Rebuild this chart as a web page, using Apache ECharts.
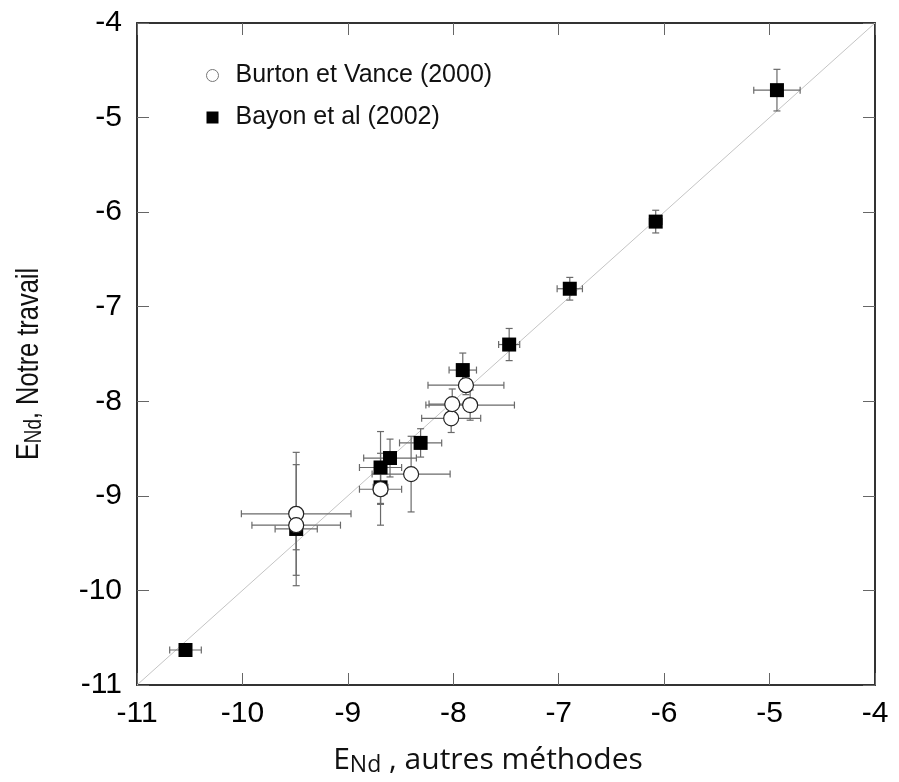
<!DOCTYPE html>
<html>
<head>
<meta charset="utf-8">
<script src="https://cdn.jsdelivr.net/npm/echarts@6/dist/echarts.min.js"></script>
<style>html,body{margin:0;padding:0;background:#fff;}#c{width:899px;height:782px;}</style>
</head>
<body>
<div id="c"></div>
<script>
// Burton et Vance (2000) — open circles
const burtonX    = [-9.49, -9.49, -8.69, -8.40, -8.02, -8.01, -7.84, -7.88];
const burtonY    = [-9.19, -9.31, -8.93, -8.77, -8.18, -8.03, -8.04, -7.83];
const burtonXErr = [0.52, 0.42, 0.20, 0.37, 0.28, 0.22, 0.42, 0.36];
const burtonYErr = [0.65, 0.64, 0.38, 0.40, 0.15, 0.16, 0.16, 0.10];

// Bayon et al (2002) — filled squares
const bayonX    = [-10.54, -9.49, -8.69, -8.69, -8.60, -8.31, -7.91, -7.47, -6.895, -6.08, -4.93];
const bayonY    = [-10.63, -9.35, -8.70, -8.91, -8.60, -8.44, -7.67, -7.40, -6.81, -6.10, -4.71];
const bayonXErr = [0.15, 0.20, 0.20, 0.07, 0.25, 0.20, 0.13, 0.10, 0.12, 0.06, 0.22];
const bayonYErr = [0.04, 0.22, 0.38, 0.18, 0.20, 0.15, 0.18, 0.17, 0.12, 0.12, 0.22];

const axisTicks = [-11, -10, -9, -8, -7, -6, -5, -4];
const oneToOne = [[-11, -11], [-4, -4]];

const seriesNames = ['Burton et Vance (2000)', 'Bayon et al (2002)'];
const xTitle = '{e|E}{sub|Nd}{e| , autres méthodes}';
const yTitle = '{e|E}{sub|Nd}{e|, Notre travail}';

function pts(xs, ys) { return xs.map((x, i) => [x, ys[i]]); }
function errs(xs, ys, ex, ey) { return xs.map((x, i) => [x, ys[i], ex[i], ey[i]]); }

function errRender(params, api) {
  const x = api.value(0), y = api.value(1), ex = api.value(2), ey = api.value(3);
  const l = api.coord([x - ex, y]), r = api.coord([x + ex, y]);
  const t = api.coord([x, y + ey]), b = api.coord([x, y - ey]);
  const cap = 3.5;
  const style = { stroke: '#6a6a6a', lineWidth: 1.2, fill: null };
  const ln = (x1, y1, x2, y2) => ({ type: 'line', shape: { x1, y1, x2, y2 }, style });
  return {
    type: 'group',
    children: [
      ln(l[0], l[1], r[0], r[1]),
      ln(t[0], t[1], b[0], b[1]),
      ln(l[0], l[1] - cap, l[0], l[1] + cap),
      ln(r[0], r[1] - cap, r[0], r[1] + cap),
      ln(t[0] - cap, t[1], t[0] + cap, t[1]),
      ln(b[0] - cap, b[1], b[0] + cap, b[1])
    ]
  };
}

const tickFont = { fontFamily: 'Liberation Sans', fontSize: 30, color: '#000' };

function mkX(pos, showLabel) {
  return {
    type: 'value', position: pos, min: -11, max: -4, interval: 1,
    axisLine: { show: true, onZero: false, lineStyle: { color: '#333', width: 2 } },
    axisTick: { show: true, inside: true, length: 12, lineStyle: { color: '#666', width: 1 } },
    splitLine: { show: false },
    axisLabel: Object.assign({ show: showLabel, margin: 14,
      formatter: v => axisTicks.includes(v) ? String(v) : '' }, tickFont)
  };
}
function mkY(pos, showLabel) {
  return {
    type: 'value', position: pos, min: -11, max: -4, interval: 1,
    axisLine: { show: true, onZero: false, lineStyle: { color: '#333', width: 2 } },
    axisTick: { show: true, inside: true, length: 12, lineStyle: { color: '#666', width: 1 } },
    splitLine: { show: false },
    axisLabel: Object.assign({ show: showLabel, margin: 15,
      formatter: v => axisTicks.includes(v) ? String(v) : '' }, tickFont)
  };
}

const xBottom = mkX('bottom', true);
xBottom.name = xTitle;
xBottom.nameLocation = 'middle';
xBottom.nameGap = 60;
xBottom.nameTextStyle = {
  padding: [0, 36, 0, 0],
  rich: {
    e: { fontFamily: 'Open Sans', fontSize: 30, color: '#111', lineHeight: 32, verticalAlign: 'top' },
    sub: { fontFamily: 'Open Sans', fontSize: 23, color: '#111', lineHeight: 23, padding: [16, 0, 0, 0], verticalAlign: 'bottom' }
  }
};

const chart = echarts.init(document.getElementById('c'), null, { renderer: 'canvas' });
chart.setOption({
  animation: false,
  backgroundColor: '#fff',
  grid: { left: 137, right: 24, top: 23, bottom: 94, containLabel: false },
  xAxis: [xBottom, mkX('top', false)],
  yAxis: [mkY('left', true), mkY('right', false)],
  graphic: [{
    type: 'text', x: 30, y: 364, rotation: Math.PI / 2, scaleX: 0.82, scaleY: 1,
    style: {
      text: yTitle, align: 'center', verticalAlign: 'middle',
      rich: {
        e: { fontFamily: 'Liberation Sans', fontSize: 31, fill: '#111', lineHeight: 32, verticalAlign: 'top' },
        sub: { fontFamily: 'Liberation Sans', fontSize: 23, fill: '#111', lineHeight: 23, padding: [14, 0, 0, 0], verticalAlign: 'bottom' }
      }
    }
  }],
  legend: {
    orient: 'vertical', left: 201, top: 58, itemGap: 17,
    itemWidth: 12, itemHeight: 12,
    textStyle: { fontFamily: 'Liberation Sans', fontSize: 25, color: '#111', lineHeight: 25, padding: [0, 0, 0, 12] },
    data: [
      { name: seriesNames[0], icon: 'circle', itemStyle: { color: '#fff', borderColor: '#777', borderWidth: 1 } },
      { name: seriesNames[1], icon: 'rect' }
    ]
  },
  series: [
    {
      type: 'line', data: oneToOne, symbol: 'none', silent: true, z: 1,
      lineStyle: { color: '#c4c4c4', width: 1 }
    },
    {
      type: 'custom', name: 'bayonErr', renderItem: errRender, z: 2,
      encode: { x: 0, y: 1 }, data: errs(bayonX, bayonY, bayonXErr, bayonYErr)
    },
    {
      type: 'custom', name: 'burtonErr', renderItem: errRender, z: 2,
      encode: { x: 0, y: 1 }, data: errs(burtonX, burtonY, burtonXErr, burtonYErr)
    },
    {
      type: 'scatter', name: seriesNames[1], symbol: 'rect', symbolSize: 14, z: 3,
      itemStyle: { color: '#000', borderColor: '#000', borderWidth: 0, opacity: 1 },
      data: pts(bayonX, bayonY)
    },
    {
      type: 'scatter', name: seriesNames[0], symbol: 'circle', symbolSize: 15, z: 4,
      itemStyle: { color: '#fff', borderColor: '#222', borderWidth: 1.2, opacity: 1 },
      data: pts(burtonX, burtonY)
    }
  ]
});
</script>
</body>
</html>
